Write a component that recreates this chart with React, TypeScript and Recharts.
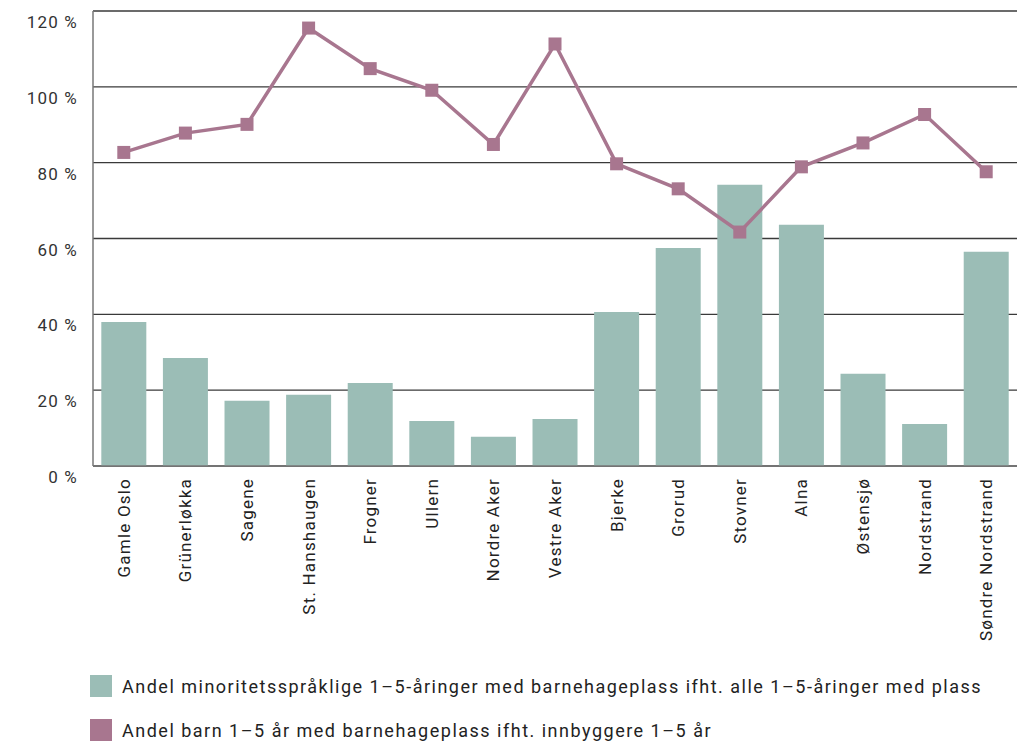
import { ComposedChart, Bar, Line, XAxis, YAxis, CartesianGrid } from 'recharts'

const districts = [
  'Gamle Oslo', 'Grünerløkka', 'Sagene', 'St. Hanshaugen', 'Frogner', 'Ullern', 'Nordre Aker',
  'Vestre Aker', 'Bjerke', 'Grorud', 'Stovner', 'Alna', 'Østensjø', 'Nordstrand', 'Søndre Nordstrand',
]
const minorityShare = [38.0, 28.5, 17.2, 18.8, 21.9, 11.9, 7.7, 12.4, 40.6, 57.5, 74.2, 63.6, 24.3, 11.1, 56.5]
const coverage = [82.7, 87.8, 90.1, 115.5, 104.8, 99.1, 84.8, 111.3, 79.7, 73.1, 61.7, 78.9, 85.2, 92.7, 77.6]
const yTicks = [0, 20, 40, 60, 80, 100, 120]

const BAR_COLOR = '#9bbdb6'
const LINE_COLOR = '#a8768f'
const FONT = 'Roboto, "DejaVu Sans", sans-serif'

const data = districts.map((name, i) => ({ name, bar: minorityShare[i], line: coverage[i] }))

function YTick({ x, y, payload }: any) {
  return (
    <text x={x} y={y + 17} textAnchor="end" fontSize={17} letterSpacing={1.2} fill="#333" fontFamily={FONT}>
      {payload.value} %
    </text>
  )
}

function XTick({ x, y, payload }: any) {
  return (
    <g transform={`translate(${x}, ${y + 4}) rotate(-90)`}>
      <text x={0} y={0} dy={6} textAnchor="end" fontSize={17} letterSpacing={1.2} fill="#222" fontFamily={FONT}>
        {payload.value}
      </text>
    </g>
  )
}

function SquareDot({ cx, cy }: any) {
  if (cx == null || cy == null) return null
  return <rect x={cx - 6.5} y={cy - 6.5} width={13} height={13} fill={LINE_COLOR} />
}

export default function App() {
  return (
    <div style={{ position: 'absolute', left: 0, top: 0, width: 1017, height: 744, background: '#fff', fontFamily: FONT }}>
      <ComposedChart
        width={1017}
        height={650}
        data={data}
        margin={{ top: 11, right: 0, left: 0, bottom: 0 }}
        barCategoryGap="13.5%"
      >
        <CartesianGrid vertical={false} stroke="#3a3a3a" strokeWidth={1.3} />
        <XAxis
          dataKey="name"
          interval={0}
          tickLine={false}
          axisLine={{ stroke: '#777', strokeWidth: 1.5 }}
          height={184}
          tick={<XTick />}
        />
        <YAxis
          domain={[0, 120]}
          ticks={yTicks}
          width={93}
          tickLine={false}
          axisLine={{ stroke: '#777', strokeWidth: 1.5 }}
          tick={<YTick />}
          tickMargin={9}
        />
        <Bar dataKey="bar" fill={BAR_COLOR} isAnimationActive={false} />
        <Line
          dataKey="line"
          stroke={LINE_COLOR}
          strokeWidth={3.5}
          dot={<SquareDot />}
          activeDot={false}
          isAnimationActive={false}
        />
      </ComposedChart>
      <div style={{ position: 'absolute', left: 90, top: 674, fontSize: 18, letterSpacing: 1.5, color: '#222' }}>
        <div style={{ display: 'flex', alignItems: 'center', height: 24 }}>
          <span style={{ width: 22, height: 22, background: BAR_COLOR, display: 'inline-block', marginRight: 10 }} />
          Andel minoritetsspråklige 1–5-åringer med barnehageplass ifht. alle 1–5-åringer med plass
        </div>
        <div style={{ display: 'flex', alignItems: 'center', height: 24, marginTop: 20 }}>
          <span style={{ width: 22, height: 22, background: LINE_COLOR, display: 'inline-block', marginRight: 10 }} />
          Andel barn 1–5 år med barnehageplass ifht. innbyggere 1–5 år
        </div>
      </div>
    </div>
  )
}
